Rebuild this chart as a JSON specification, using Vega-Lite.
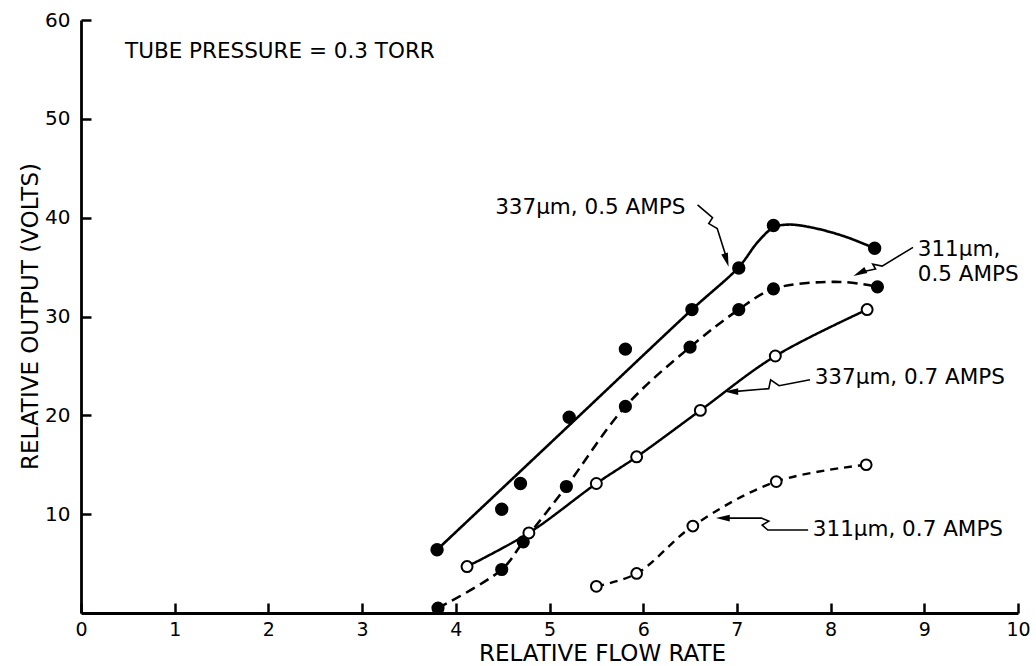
{
  "$schema": "https://vega.github.io/schema/vega-lite/v6.json",
  "width": 937,
  "height": 593,
  "autosize": {"type": "none"},
  "padding": {"left": 81, "top": 20, "right": 18, "bottom": 53},
  "background": "white",
  "config": {
    "view": {"stroke": null},
    "font": "DejaVu Sans",
    "text": {"font": "DejaVu Sans"}
  },
  "datasets": {
    "points": [
      {"series": "337µm 0.5A", "flow": 3.80, "output": 6.4},
      {"series": "337µm 0.5A", "flow": 4.49, "output": 10.5},
      {"series": "337µm 0.5A", "flow": 4.69, "output": 13.1},
      {"series": "337µm 0.5A", "flow": 5.21, "output": 19.8},
      {"series": "337µm 0.5A", "flow": 5.81, "output": 26.7},
      {"series": "337µm 0.5A", "flow": 6.52, "output": 30.7},
      {"series": "337µm 0.5A", "flow": 7.02, "output": 34.9},
      {"series": "337µm 0.5A", "flow": 7.39, "output": 39.2},
      {"series": "337µm 0.5A", "flow": 8.47, "output": 36.9},
      {"series": "311µm 0.5A", "flow": 3.81, "output": 0.5},
      {"series": "311µm 0.5A", "flow": 4.49, "output": 4.4},
      {"series": "311µm 0.5A", "flow": 4.72, "output": 7.2},
      {"series": "311µm 0.5A", "flow": 5.18, "output": 12.8},
      {"series": "311µm 0.5A", "flow": 5.81, "output": 20.9},
      {"series": "311µm 0.5A", "flow": 6.50, "output": 26.9},
      {"series": "311µm 0.5A", "flow": 7.02, "output": 30.7},
      {"series": "311µm 0.5A", "flow": 7.39, "output": 32.8},
      {"series": "311µm 0.5A", "flow": 8.50, "output": 33.0},
      {"series": "337µm 0.7A", "flow": 4.12, "output": 4.7},
      {"series": "337µm 0.7A", "flow": 4.78, "output": 8.1},
      {"series": "337µm 0.7A", "flow": 5.50, "output": 13.1},
      {"series": "337µm 0.7A", "flow": 5.93, "output": 15.8},
      {"series": "337µm 0.7A", "flow": 6.61, "output": 20.5},
      {"series": "337µm 0.7A", "flow": 7.41, "output": 26.0},
      {"series": "337µm 0.7A", "flow": 8.39, "output": 30.7},
      {"series": "311µm 0.7A", "flow": 5.50, "output": 2.7},
      {"series": "311µm 0.7A", "flow": 5.93, "output": 4.0},
      {"series": "311µm 0.7A", "flow": 6.53, "output": 8.8},
      {"series": "311µm 0.7A", "flow": 7.42, "output": 13.3},
      {"series": "311µm 0.7A", "flow": 8.38, "output": 15.0}
    ],
    "curves": [
      {"series": "337µm 0.5A", "flow": 3.80, "output": 6.4},
      {"series": "337µm 0.5A", "flow": 5.20, "output": 18.9},
      {"series": "337µm 0.5A", "flow": 6.52, "output": 30.7},
      {"series": "337µm 0.5A", "flow": 7.02, "output": 35.0},
      {"series": "337µm 0.5A", "flow": 7.22, "output": 37.5},
      {"series": "337µm 0.5A", "flow": 7.39, "output": 39.0},
      {"series": "337µm 0.5A", "flow": 7.55, "output": 39.3},
      {"series": "337µm 0.5A", "flow": 7.80, "output": 39.0},
      {"series": "337µm 0.5A", "flow": 8.15, "output": 38.1},
      {"series": "337µm 0.5A", "flow": 8.47, "output": 36.9},
      {"series": "311µm 0.5A", "flow": 3.81, "output": 0.5},
      {"series": "311µm 0.5A", "flow": 4.49, "output": 4.4},
      {"series": "311µm 0.5A", "flow": 4.72, "output": 7.2},
      {"series": "311µm 0.5A", "flow": 5.18, "output": 12.8},
      {"series": "311µm 0.5A", "flow": 5.81, "output": 20.9},
      {"series": "311µm 0.5A", "flow": 6.50, "output": 26.9},
      {"series": "311µm 0.5A", "flow": 7.02, "output": 30.7},
      {"series": "311µm 0.5A", "flow": 7.39, "output": 32.8},
      {"series": "311µm 0.5A", "flow": 8.10, "output": 33.5},
      {"series": "311µm 0.5A", "flow": 8.50, "output": 33.0},
      {"series": "337µm 0.7A", "flow": 4.12, "output": 4.7},
      {"series": "337µm 0.7A", "flow": 4.78, "output": 8.1},
      {"series": "337µm 0.7A", "flow": 5.50, "output": 13.1},
      {"series": "337µm 0.7A", "flow": 5.93, "output": 15.8},
      {"series": "337µm 0.7A", "flow": 6.61, "output": 20.5},
      {"series": "337µm 0.7A", "flow": 7.41, "output": 26.0},
      {"series": "337µm 0.7A", "flow": 8.39, "output": 30.7},
      {"series": "311µm 0.7A", "flow": 5.50, "output": 2.7},
      {"series": "311µm 0.7A", "flow": 5.93, "output": 4.0},
      {"series": "311µm 0.7A", "flow": 6.53, "output": 8.8},
      {"series": "311µm 0.7A", "flow": 7.42, "output": 13.3},
      {"series": "311µm 0.7A", "flow": 8.38, "output": 15.0}
    ],
    "leaders": [
      {"leader": "a", "seq": 1, "flow": 6.58, "output": 41.3},
      {"leader": "a", "seq": 2, "flow": 6.74, "output": 40.0},
      {"leader": "a", "seq": 3, "flow": 6.70, "output": 39.4},
      {"leader": "a", "seq": 4, "flow": 6.79, "output": 38.9},
      {"leader": "a", "seq": 5, "flow": 6.89, "output": 35.9},
      {"leader": "b", "seq": 1, "flow": 8.88, "output": 37.0},
      {"leader": "b", "seq": 2, "flow": 8.55, "output": 35.1},
      {"leader": "b", "seq": 3, "flow": 8.45, "output": 35.3},
      {"leader": "b", "seq": 4, "flow": 8.48, "output": 34.8},
      {"leader": "b", "seq": 5, "flow": 8.33, "output": 34.5},
      {"leader": "c", "seq": 1, "flow": 7.78, "output": 23.6},
      {"leader": "c", "seq": 2, "flow": 7.45, "output": 23.0},
      {"leader": "c", "seq": 3, "flow": 7.36, "output": 23.6},
      {"leader": "c", "seq": 4, "flow": 7.34, "output": 22.7},
      {"leader": "c", "seq": 5, "flow": 6.96, "output": 22.4},
      {"leader": "d", "seq": 1, "flow": 7.76, "output": 8.4},
      {"leader": "d", "seq": 2, "flow": 7.33, "output": 8.4},
      {"leader": "d", "seq": 3, "flow": 7.27, "output": 8.9},
      {"leader": "d", "seq": 4, "flow": 7.34, "output": 9.3},
      {"leader": "d", "seq": 5, "flow": 7.26, "output": 9.6},
      {"leader": "d", "seq": 6, "flow": 6.88, "output": 9.6}
    ],
    "notes": [
      {"label": "TUBE PRESSURE = 0.3 TORR", "flow": 0.47, "output": 56.8},
      {"label": "337µm, 0.5 AMPS", "flow": 4.42, "output": 41.0},
      {"label": "311µm,", "flow": 8.93, "output": 36.7},
      {"label": "0.5 AMPS", "flow": 8.93, "output": 34.2},
      {"label": "337µm, 0.7 AMPS", "flow": 7.83, "output": 23.8},
      {"label": "311µm, 0.7 AMPS", "flow": 7.81, "output": 8.4}
    ]
  },
  "encoding": {
    "x": {
      "field": "flow",
      "type": "quantitative",
      "scale": {"domain": [0, 10], "nice": false},
      "axis": {
        "values": [0, 1, 2, 3, 4, 5, 6, 7, 8, 9, 10],
        "format": "d",
        "title": "RELATIVE FLOW RATE",
        "grid": false,
        "domainColor": "black",
        "domainWidth": 2.8,
        "tickColor": "black",
        "tickWidth": 2.5,
        "tickSize": -10,
        "labelPadding": 17,
        "labelFontSize": 19,
        "labelColor": "black",
        "labelFont": "DejaVu Sans",
        "labelFlush": false,
        "titleFont": "DejaVu Sans",
        "titleFontSize": 23,
        "titleFontWeight": "normal",
        "titleColor": "black",
        "titleX": 521,
        "titleY": 40,
        "titleAlign": "center",
        "titleBaseline": "middle"
      }
    },
    "y": {
      "field": "output",
      "type": "quantitative",
      "scale": {"domain": [0, 60], "nice": false},
      "axis": {
        "values": [10, 20, 30, 40, 50, 60],
        "format": "d",
        "title": "RELATIVE OUTPUT (VOLTS)",
        "grid": false,
        "domainColor": "black",
        "domainWidth": 2.8,
        "tickColor": "black",
        "tickWidth": 2.5,
        "tickSize": -10,
        "labelPadding": 21,
        "labelFontSize": 20,
        "labelColor": "black",
        "labelFont": "DejaVu Sans",
        "labelFlush": false,
        "titleFont": "DejaVu Sans",
        "titleFontSize": 23,
        "titleFontWeight": "normal",
        "titleColor": "black",
        "titleX": -51,
        "titleY": 296,
        "titleAlign": "center",
        "titleBaseline": "middle"
      }
    }
  },
  "layer": [
    {
      "data": {"name": "curves"},
      "mark": {"type": "line", "interpolate": "catmull-rom", "color": "black"},
      "encoding": {
        "detail": {"field": "series", "type": "nominal"},
        "strokeDash": {
          "field": "series",
          "type": "nominal",
          "scale": {
            "domain": ["337µm 0.5A", "311µm 0.5A", "337µm 0.7A", "311µm 0.7A"],
            "range": [[1, 0], [10, 6], [1, 0], [8, 6]]
          },
          "legend": null
        },
        "strokeWidth": {
          "field": "series",
          "type": "nominal",
          "scale": {
            "domain": ["337µm 0.5A", "311µm 0.5A", "337µm 0.7A", "311µm 0.7A"],
            "range": [2.6, 2.4, 2, 2]
          },
          "legend": null
        }
      }
    },
    {
      "data": {"name": "points"},
      "mark": {"type": "point", "shape": "circle", "filled": true, "stroke": "black", "strokeWidth": 2, "opacity": 1},
      "encoding": {
        "fill": {
          "field": "series",
          "type": "nominal",
          "scale": {
            "domain": ["337µm 0.5A", "311µm 0.5A", "337µm 0.7A", "311µm 0.7A"],
            "range": ["black", "black", "white", "white"]
          },
          "legend": null
        },
        "size": {
          "field": "series",
          "type": "nominal",
          "scale": {
            "domain": ["337µm 0.5A", "311µm 0.5A", "337µm 0.7A", "311µm 0.7A"],
            "range": [130, 115, 110, 100]
          },
          "legend": null
        }
      }
    },
    {
      "data": {"name": "leaders"},
      "mark": {"type": "line", "color": "black", "strokeWidth": 1.6},
      "encoding": {
        "detail": {"field": "leader", "type": "nominal"},
        "order": {"field": "seq", "type": "quantitative"}
      }
    },
    {
      "data": {"values": [{"flow": 6.89, "output": 35.7}]},
      "mark": {"type": "point", "shape": "M0,-1L0.5,1L-0.5,1Z", "filled": true, "color": "black", "size": 190, "angle": 163, "opacity": 1}
    },
    {
      "data": {"values": [{"flow": 8.31, "output": 34.4}]},
      "mark": {"type": "point", "shape": "M0,-1L0.5,1L-0.5,1Z", "filled": true, "color": "black", "size": 190, "angle": 244, "opacity": 1}
    },
    {
      "data": {"values": [{"flow": 6.94, "output": 22.4}]},
      "mark": {"type": "point", "shape": "M0,-1L0.5,1L-0.5,1Z", "filled": true, "color": "black", "size": 190, "angle": 270, "opacity": 1}
    },
    {
      "data": {"values": [{"flow": 6.85, "output": 9.6}]},
      "mark": {"type": "point", "shape": "M0,-1L0.5,1L-0.5,1Z", "filled": true, "color": "black", "size": 190, "angle": 270, "opacity": 1}
    },
    {
      "data": {"name": "notes"},
      "mark": {"type": "text", "align": "left", "baseline": "middle", "fontSize": 21.5, "color": "black", "font": "DejaVu Sans"},
      "encoding": {
        "text": {"field": "label", "type": "nominal"}
      }
    }
  ]
}
